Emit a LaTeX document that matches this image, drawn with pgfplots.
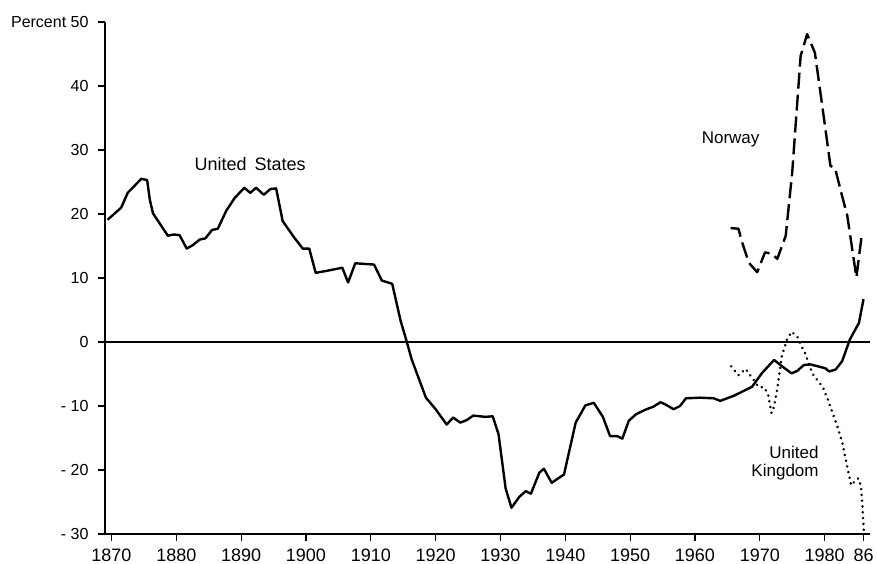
\documentclass[border=0pt]{standalone}
\usepackage{fontspec}
\setmainfont{Liberation Sans}
\usepackage{pgfplots}
\pgfplotsset{compat=1.18}
\newcommand\xl[1]{{\fontsize{18bp}{20bp}\selectfont #1}}
\newcommand\yl[1]{{\fontsize{16bp}{20bp}\selectfont #1}}
\begin{document}
\begin{tikzpicture}
\begin{axis}[
 scale only axis, width=765bp, height=512bp,
 xmin=1869, xmax=1987, ymin=-30, ymax=50,
 axis lines=left, axis line style={-, line width=1.3bp},
 tick align=outside, major tick length=7bp, tick style={line width=1.1bp, black},
 xtick={1870,1880,1890,1900,1910,1920,1930,1940,1950,1960,1970,1980,1986},
 xticklabels={\xl{1870},\xl{1880},\xl{1890},\xl{1900},\xl{1910},\xl{1920},\xl{1930},\xl{1940},\xl{1950},\xl{1960},\xl{1970},\xl{1980},\xl{86}},
 ytick={-30,-20,-10,0,10,20,30,40,50},
 yticklabels={\yl{-\ 30},\yl{-\ 20},\yl{-\ 10},\yl{0},\yl{10},\yl{20},\yl{30},\yl{40},\yl{Percent 50}},
 xticklabel style={yshift=-4bp},
 yticklabel style={xshift=-6bp},
 every axis plot/.append style={line join=round},
]
\addplot[line width=1.3bp] coordinates {(1869,0) (1987,0)};
% United States
\addplot[line width=2.4bp, black] coordinates {
(1869.4,19.1) (1871.5,21.0) (1872.5,23.3) (1874.6,25.5) (1875.5,25.3) (1875.9,22.3)
(1876.4,20.1) (1878.7,16.6) (1879.6,16.8) (1880.5,16.7) (1881.6,14.6) (1882.5,15.1)
(1883.6,16.0) (1884.5,16.2) (1885.5,17.5) (1886.4,17.7) (1887.7,20.5) (1889.0,22.5)
(1890.5,24.1) (1891.4,23.3) (1892.3,24.1) (1893.5,23.0) (1894.5,23.9) (1895.4,24.0)
(1896.4,18.9) (1898.2,16.3) (1899.5,14.6) (1900.5,14.6) (1901.5,10.8) (1903.1,11.1)
(1905.6,11.6) (1906.5,9.3) (1907.6,12.3) (1910.5,12.1) (1911.7,9.6) (1913.3,9.1)
(1914.6,3.3) (1915.5,0.2) (1916.3,-2.7) (1918.5,-8.7) (1920.0,-10.5) (1921.7,-12.9)
(1922.7,-11.8) (1923.8,-12.6) (1924.8,-12.2) (1925.8,-11.5) (1927.7,-11.7) (1928.8,-11.6)
(1929.7,-14.4) (1930.8,-22.9) (1931.7,-25.9) (1932.9,-24.2) (1933.9,-23.3) (1934.7,-23.7)
(1936.0,-20.4) (1936.7,-19.8) (1937.9,-22.0) (1939.8,-20.7) (1941.6,-12.6) (1943.1,-9.9)
(1944.4,-9.5) (1945.8,-11.7) (1946.9,-14.7) (1948.0,-14.7) (1948.8,-15.1) (1949.8,-12.3)
(1950.9,-11.3) (1952.3,-10.6) (1953.6,-10.1) (1954.7,-9.4) (1955.7,-9.9) (1956.7,-10.5)
(1957.7,-10.0) (1958.6,-8.8) (1960.8,-8.7) (1962.9,-8.8) (1963.9,-9.2) (1966.0,-8.4)
(1968.8,-7.0) (1970.3,-4.9) (1972.2,-2.8) (1973.7,-4.0) (1974.9,-4.9) (1975.8,-4.5)
(1976.8,-3.6) (1977.8,-3.5) (1980.1,-4.1) (1980.7,-4.6) (1981.7,-4.3) (1982.7,-3.0)
(1983.9,0.4) (1985.3,3.0) (1986.0,6.7)
};
% Norway
\addplot[line width=2.4bp, black, dash pattern=on 16bp off 6bp] coordinates {
(1965.5,17.8) (1966.7,17.7) (1967.3,15.5) (1968.3,12.4) (1969.6,10.9) (1970.8,14.0)
(1971.8,13.8) (1972.7,13.0) (1974.0,16.6) (1975.0,26.5) (1976.3,44.7) (1977.3,48.1)
(1978.5,45.2) (1979.7,36.4) (1980.9,27.5) (1981.6,27.2) (1982.7,22.8) (1983.5,19.7)
(1984.9,10.1) (1985.7,16.5)
};
% United Kingdom
\addplot[line width=2.8bp, black, line cap=round, dash pattern=on 0.01bp off 5.8bp] coordinates {
(1965.6,-3.8) (1966.7,-5.2) (1967.8,-4.2) (1968.9,-5.7) (1969.8,-7.0) (1970.7,-7.1)
(1971.3,-8.3) (1971.8,-11.1) (1972.2,-10.1) (1972.7,-7.3) (1973.4,-2.2) (1974.2,0.4)
(1974.9,1.6) (1975.8,0.8) (1976.3,-0.4) (1977.0,-1.8) (1978.1,-4.9) (1978.9,-6.0)
(1979.7,-7.0) (1980.5,-9.0) (1981.3,-11.3) (1982.1,-13.6) (1982.8,-16.0) (1983.3,-18.6)
(1984.1,-22.4) (1984.7,-21.7) (1985.2,-21.3) (1985.6,-22.5) (1985.8,-25.1) (1986.1,-30.5)
};
\node[font=\fontsize{18bp}{20bp}\selectfont] at (axis cs:1891.4,27.8) {United\hspace{8bp}States};
\node[font=\fontsize{17bp}{20bp}\selectfont] at (axis cs:1965.5,31.7) {Norway};
\node[font=\fontsize{17bp}{20bp}\selectfont, anchor=east, align=right, inner sep=0pt] at (axis cs:1979.1,-19) {United\\[-2bp]Kingdom};
\end{axis}
\pgfresetboundingbox
\path ([shift={(-105bp,-30bp)}]current axis.south west) rectangle ([shift={(7bp,22bp)}]current axis.north east);
\end{tikzpicture}
\end{document}
